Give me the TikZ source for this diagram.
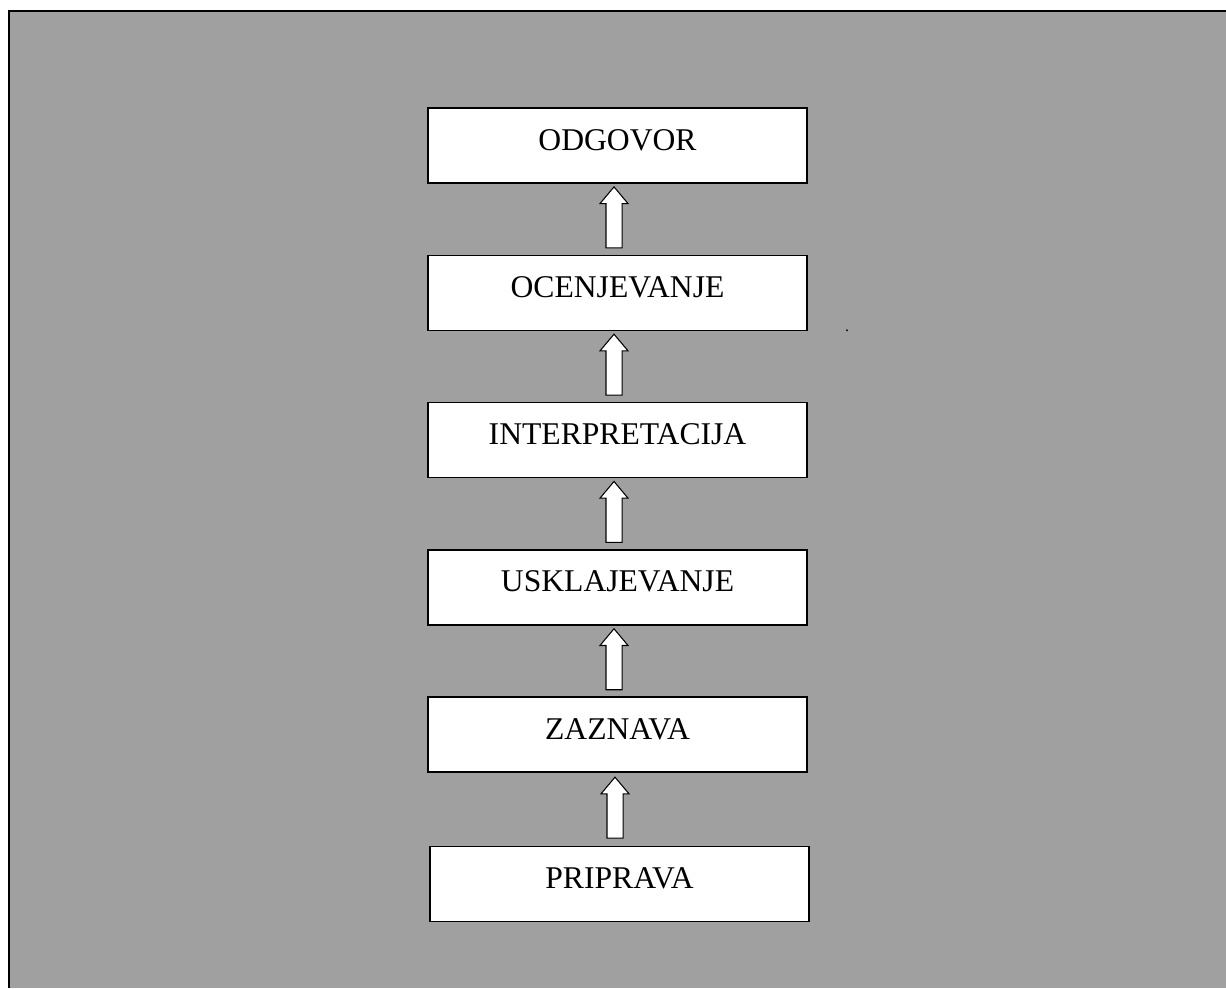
\documentclass[tikz,border=0pt]{standalone}
\usepackage{fontspec}
\setmainfont{Liberation Serif}
\usetikzlibrary{positioning,shapes.arrows}
\definecolor{bggray}{HTML}{A0A0A0}
\tikzset{
  stepbox/.style={draw,rectangle,fill=white,line width=0.85pt,minimum width=7.58cm,minimum height=1.5cm,
    inner ysep=0pt,text height=0.84cm,text depth=0.66cm,font=\fontsize{18}{22}\selectfont},
  uparr/.style={draw,fill=white,line width=0.6pt,shape=single arrow,shape border rotate=90,
    minimum height=1.22cm,inner sep=0.15cm,single arrow head extend=0.12cm,
    single arrow tip angle=80,xshift=-0.07cm,yshift=-0.06cm},
  frame/.style={line width=0.04cm}
}
\begin{document}
\begin{tikzpicture}[node distance=1.416cm]
  \useasboundingbox (0,0) rectangle (24.52,-19.76);
  % background and open frame
  \fill[bggray] (0.18,-0.22) rectangle (24.52,-19.76);
  \draw[frame] (0.18,-19.76) -- (0.18,-0.22) -- (24.52,-0.22);

  % stages, top to bottom
  \node[stepbox] (odg) at (12.35,-2.91) {ODGOVOR};
  \node[stepbox, below=of odg] (ocn) {OCENJEVANJE};
  \node[stepbox, below=of ocn] (int) {INTERPRETACIJA};
  \node[stepbox, below=of int] (usk) {USKLAJEVANJE};
  \node[stepbox, below=of usk] (zaz) {ZAZNAVA};
  \node[stepbox, below=1.46cm of zaz, xshift=0.04cm] (prp) {PRIPRAVA};

  \node[inner sep=0pt, anchor=base, font=\fontsize{9}{10}\selectfont] (dot) at (16.94,-6.62) {.};

  \path (prp) -- node[uparr]{} (zaz);
  \path (zaz) -- node[uparr]{} (usk);
  \path (usk) -- node[uparr]{} (int);
  \path (int) -- node[uparr]{} (ocn);
  \path (ocn) -- node[uparr]{} (odg);
\end{tikzpicture}
\end{document}
